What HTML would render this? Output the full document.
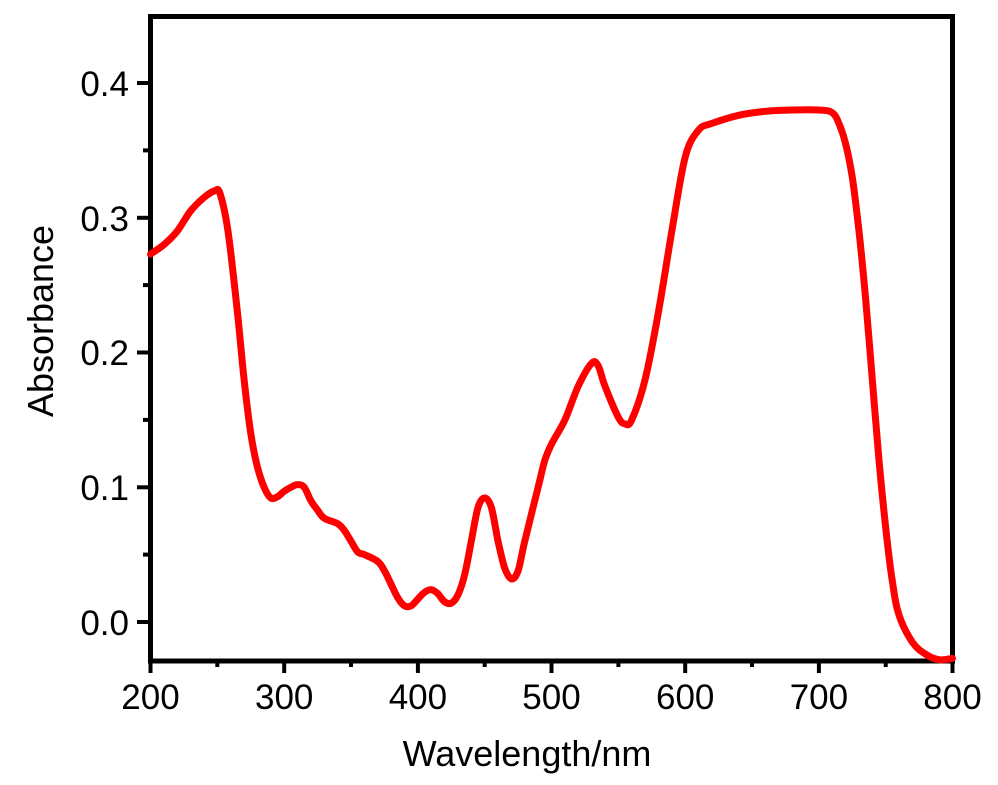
<!DOCTYPE html>
<html><head><style>html,body{margin:0;padding:0;background:#fff}</style></head><body>
<svg id="s" width="998" height="780" xmlns="http://www.w3.org/2000/svg" font-family="Liberation Sans, Arial, sans-serif">
<rect x="150.5" y="16.5" width="802" height="644.5" fill="none" stroke="#000" stroke-width="5"/>
<g stroke="#000" stroke-width="4">
<line x1="150.5" y1="661" x2="150.5" y2="673"/><line x1="284.2" y1="661" x2="284.2" y2="673"/><line x1="417.9" y1="661" x2="417.9" y2="673"/><line x1="551.5" y1="661" x2="551.5" y2="673"/><line x1="685.2" y1="661" x2="685.2" y2="673"/><line x1="818.9" y1="661" x2="818.9" y2="673"/><line x1="952.5" y1="661" x2="952.5" y2="673"/>
<line x1="217.3" y1="661" x2="217.3" y2="667"/><line x1="351" y1="661" x2="351" y2="667"/><line x1="484.7" y1="661" x2="484.7" y2="667"/><line x1="618.4" y1="661" x2="618.4" y2="667"/><line x1="752" y1="661" x2="752" y2="667"/><line x1="885.7" y1="661" x2="885.7" y2="667"/>
<line x1="137" y1="622" x2="150" y2="622"/><line x1="137" y1="487.3" x2="150" y2="487.3"/><line x1="137" y1="352.5" x2="150" y2="352.5"/><line x1="137" y1="217.8" x2="150" y2="217.8"/><line x1="137" y1="83" x2="150" y2="83"/>
<line x1="143" y1="554.6" x2="150" y2="554.6"/><line x1="143" y1="419.9" x2="150" y2="419.9"/><line x1="143" y1="285.1" x2="150" y2="285.1"/><line x1="143" y1="150.4" x2="150" y2="150.4"/>
</g>
<g font-size="35" text-anchor="end" fill="#000">
<text x="129" y="635">0.0</text><text x="129" y="500">0.1</text><text x="129" y="365">0.2</text><text x="129" y="231">0.3</text><text x="129" y="96">0.4</text>
</g>
<g font-size="35" text-anchor="middle" fill="#000">
<text x="150.5" y="709">200</text><text x="284.2" y="709">300</text><text x="417.9" y="709">400</text><text x="551.5" y="709">500</text><text x="685.2" y="709">600</text><text x="818.9" y="709">700</text><text x="952.5" y="709">800</text>
</g>
<text x="527" y="766" font-size="36" text-anchor="middle">Wavelength/nm</text>
<text transform="translate(53,321) rotate(-90)" font-size="36" text-anchor="middle">Absorbance</text>
<path id="c" fill="none" stroke="#f00" stroke-width="7" stroke-linejoin="round" stroke-linecap="round"/>
</svg>
<script>
var d=[200,.273,210,.280,220,.290,230,.305,240,.315,248,.320,252,.318,258,.290,265,.230,270,.180,275,.140,280,.115,285,.100,290,.092,295,.093,300,.097,305,.100,310,.102,315,.100,320,.090,325,.083,330,.077,340,.073,345,.068,350,.060,355,.052,360,.050,370,.045,375,.038,380,.028,385,.018,390,.012,395,.012,400,.017,405,.022,410,.024,415,.021,420,.015,425,.014,430,.020,435,.035,440,.060,445,.085,450,.092,455,.085,460,.060,465,.040,470,.032,475,.038,480,.060,490,.100,495,.120,500,.132,510,.150,520,.175,530,.192,535,.190,540,.175,550,.152,555,.147,560,.150,570,.180,580,.230,590,.290,600,.345,610,.365,620,.370,640,.376,660,.379,680,.380,700,.380,710,.378,715,.370,720,.355,725,.330,730,.290,735,.240,740,.180,745,.120,750,.070,755,.030,760,.005,770,-.015,780,-.024,790,-.028,800,-.027];
var P=[];for(var i=0;i<d.length;i+=2){P.push([150.5+(d[i]-200)*1.3367,622-d[i+1]*1347.5]);}
var s="M"+P[0][0].toFixed(1)+","+P[0][1].toFixed(1);
for(var i=0;i<P.length-1;i++){var p0=P[i-1]||P[i],p1=P[i],p2=P[i+1],p3=P[i+2]||p2;
var c1=[p1[0]+(p2[0]-p0[0])/6,p1[1]+(p2[1]-p0[1])/6],c2=[p2[0]-(p3[0]-p1[0])/6,p2[1]-(p3[1]-p1[1])/6];
s+=" C"+c1[0].toFixed(1)+","+c1[1].toFixed(1)+" "+c2[0].toFixed(1)+","+c2[1].toFixed(1)+" "+p2[0].toFixed(1)+","+p2[1].toFixed(1);}
document.getElementById("c").setAttribute("d",s);
</script>
</body></html>
